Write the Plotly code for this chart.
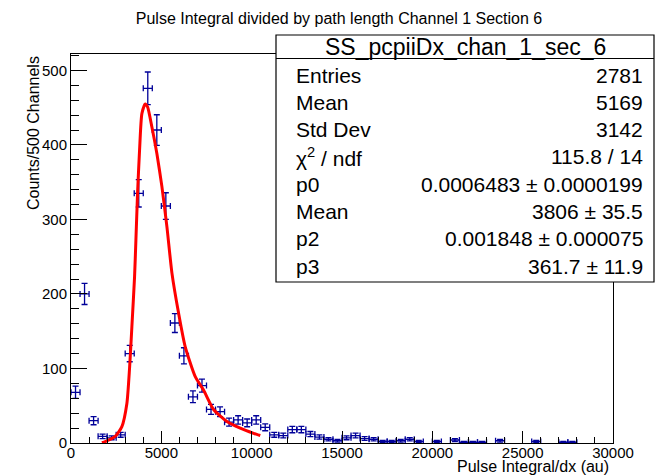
import plotly.graph_objects as go

# ---------------- data ----------------
bin_centers = [250, 750, 1250, 1750, 2250, 2750, 3250, 3750, 4250, 4750,
               5250, 5750, 6250, 6750, 7250, 7750, 8250, 8750, 9250, 9750,
               10250, 10750, 11250, 11750, 12250, 12750, 13250, 13750, 14250, 14750,
               15250, 15750, 16250, 16750, 17250, 17750, 18250, 18750, 19250, 20250,
               21250, 21750, 22250, 22750, 23750, 25750, 27250, 27750]
counts = [68, 200, 30, 9, 7, 11, 120, 335, 476, 420,
          318, 161, 117, 62, 77, 45, 42, 28, 31, 27,
          31, 21, 11, 10, 18, 18, 12, 8, 5, 3,
          7, 10, 6, 5, 2, 2, 3, 5, 2, 2,
          4, 1, 1, 1, 3, 2, 1, 1]
bin_half_width = 250

fit_x = [1710, 1894, 2447, 2816, 3093, 3240, 3370, 3518, 3592, 3684, 3795, 3924,
         4109, 4238, 4478, 4755, 5032, 5310, 5587, 5956, 6323, 6877, 7336,
         7892, 8630, 9369, 10107, 10476]
fit_y = [0.5, 2, 9, 22, 53, 100, 156, 223, 272, 335, 393, 442,
         455, 451, 424, 388, 344, 290, 228, 174, 129, 89, 71,
         45, 29, 20, 13, 10]

title_text = "Pulse Integral divided by path length Channel 1 Section 6"
x_title = "Pulse Integral/dx (au)"
y_title = "Counts/500 Channels"
stats_title = "SS_pcpiiDx_chan_1_sec_6"
stat_labels = ["Entries", "Mean", "Std Dev", "χ<sup>2</sup> / ndf", "p0", "Mean", "p2", "p3"]
stat_values = ["2781", "5169", "3142", "115.8 / 14", "0.0006483 ± 0.0000199",
               "3806 ± 35.5", "0.001848 ± 0.000075", "361.7 ± 11.9"]

x_ticks = [0, 5000, 10000, 15000, 20000, 25000, 30000]
y_ticks = [0, 100, 200, 300, 400, 500]

# ---------------- layout geometry ----------------
W, H = 658, 475
L, R, T, B = 71, 613, 54, 443
FONT = "Liberation Sans, Arial, Helvetica, sans-serif"
BLUE = "#000099"


def pxx(x):
    return (x - L) / (R - L)


def pxy(y):
    return (B - y) / (B - T)


fig = go.Figure()

fig.add_trace(go.Scatter(
    x=bin_centers, y=counts, mode="markers",
    marker=dict(size=1, color=BLUE),
    error_x=dict(type="constant", value=bin_half_width, color=BLUE, thickness=1.3, width=3),
    error_y=dict(type="sqrt", color=BLUE, thickness=1.3, width=3),
    showlegend=False, hoverinfo="x+y",
))

fig.add_trace(go.Scatter(
    x=fit_x, y=fit_y, mode="lines",
    line=dict(color="#ff0000", width=3, shape="spline", smoothing=0.6),
    showlegend=False,
))

axis_common = dict(
    showline=True, linecolor="black", linewidth=1, mirror=True,
    ticks="inside", tickcolor="black", showgrid=False, zeroline=False,
    tickfont=dict(family=FONT, size=15, color="black"),
)

fig.update_xaxes(range=[0, 30000], tickvals=x_ticks, ticktext=[str(v) for v in x_ticks],
                 ticklen=12, tickwidth=1, ticklabelstandoff=-4,
                 minor=dict(ticks="inside", dtick=1000, ticklen=6, tickcolor="black", showgrid=False),
                 **axis_common)
fig.update_yaxes(range=[0, 522], tickvals=y_ticks, ticktext=[str(v) for v in y_ticks],
                 ticklen=16, tickwidth=1,
                 minor=dict(ticks="inside", dtick=20, ticklen=8, tickcolor="black", showgrid=False),
                 **axis_common)

annotations = [
    dict(text=x_title, xref="paper", yref="paper", x=pxx(611), y=pxy(466),
         xanchor="right", yanchor="middle", showarrow=False,
         font=dict(family=FONT, size=16, color="black")),
    dict(text=y_title, xref="paper", yref="paper", x=pxx(33), y=pxy(54),
         xanchor="center", yanchor="top", textangle=-90, showarrow=False,
         font=dict(family=FONT, size=16, color="black")),
]

# stats box
bx0, bx1, by0, by1, bsep = 276, 654, 35, 282, 58.5
shapes = [
    dict(type="rect", xref="paper", yref="paper", x0=pxx(bx0), x1=pxx(bx1),
         y0=pxy(by1), y1=pxy(by0), line=dict(color="black", width=1.2),
         fillcolor="white", layer="above"),
    dict(type="line", xref="paper", yref="paper", x0=pxx(bx0), x1=pxx(bx1),
         y0=pxy(bsep), y1=pxy(bsep), line=dict(color="black", width=1.2), layer="above"),
]
annotations.append(dict(text=stats_title, xref="paper", yref="paper",
                        x=pxx((bx0 + bx1) / 2), y=pxy(47), xanchor="center", yanchor="middle",
                        showarrow=False, font=dict(family=FONT, size=23, color="black")))
row_y = [75, 102.3, 129.6, 156.9, 184.2, 211.5, 238.8, 266.1]
for lab, val, yy in zip(stat_labels, stat_values, row_y):
    annotations.append(dict(text=lab, xref="paper", yref="paper", x=pxx(294), y=pxy(yy),
                            xanchor="left", yanchor="middle", showarrow=False,
                            font=dict(family=FONT, size=21, color="black")))
    annotations.append(dict(text=val, xref="paper", yref="paper", x=pxx(645), y=pxy(yy),
                            xanchor="right", yanchor="middle", showarrow=False,
                            font=dict(family=FONT, size=21, color="black")))

fig.update_layout(
    width=W, height=H,
    margin=dict(l=L, r=W - R, t=T, b=H - B, pad=0),
    paper_bgcolor="white", plot_bgcolor="white",
    title=dict(text=title_text, xref="paper", x=pxx(339), xanchor="center",
               y=1 - 18 / H, yanchor="middle",
               font=dict(family=FONT, size=16, color="black")),
    shapes=shapes, annotations=annotations,
)

fig.write_html("out.html")
